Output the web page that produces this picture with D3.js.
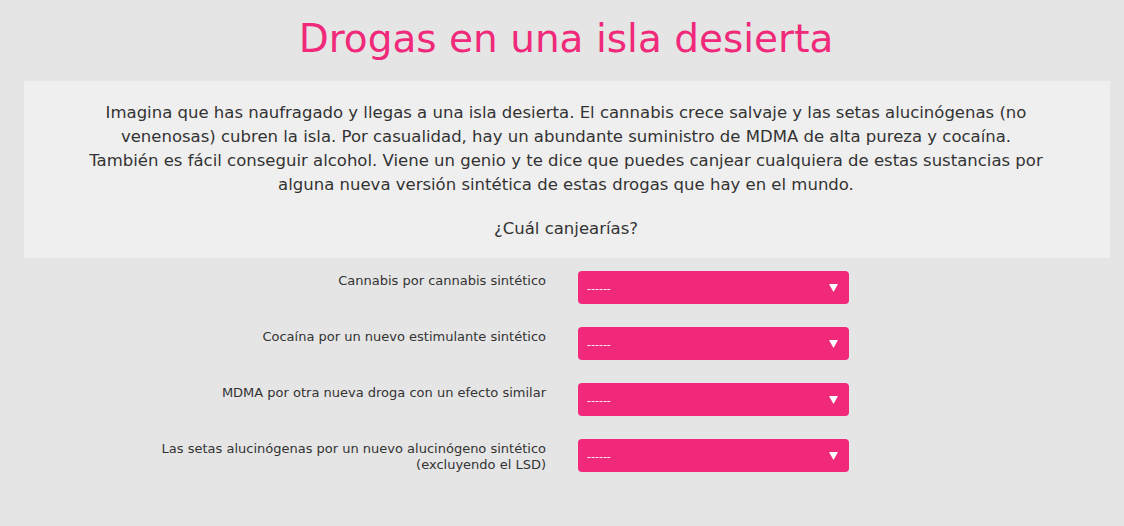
<!DOCTYPE html>
<meta charset="utf-8">
<style>
body{ margin:0; background:#e5e5e5; font-family:"DejaVu Sans", Verdana, sans-serif; }
</style>
<body>
<div id="chart"></div>
<script src="https://d3js.org/d3.v7.min.js"></script>
<script>

var title = "Drogas en una isla desierta";
var introLines = [
  "Imagina que has naufragado y llegas a una isla desierta. El cannabis crece salvaje y las setas alucinógenas (no",
  "venenosas) cubren la isla. Por casualidad, hay un abundante suministro de MDMA de alta pureza y cocaína.",
  "También es fácil conseguir alcohol. Viene un genio y te dice que puedes canjear cualquiera de estas sustancias por",
  "alguna nueva versión sintética de estas drogas que hay en el mundo.",
  "",
  "¿Cuál canjearías?"
];
var questions = [
  ["Cannabis por cannabis sintético"],
  ["Cocaína por un nuevo estimulante sintético"],
  ["MDMA por otra nueva droga con un efecto similar"],
  ["Las setas alucinógenas por un nuevo alucinógeno sintético", "(excluyendo el LSD)"]
];
var placeholder = "------";

var width = 1124, height = 526, pink = "#f0297a";

var svg = d3.select("#chart").append("svg")
    .attr("width", width).attr("height", height);

svg.append("rect").attr("width", width).attr("height", height).attr("fill", "#e5e5e5");

svg.append("text")
    .attr("x", 566).attr("y", 52)
    .attr("text-anchor", "middle")
    .attr("fill", pink)
    .style("font-size", "39px")
    .text(title);

svg.append("rect")
    .attr("x", 24).attr("y", 81).attr("width", 1086).attr("height", 177)
    .attr("fill", "#efefef");

var lineY = d3.scaleLinear().domain([0, 1]).range([118, 142]);
svg.selectAll("text.intro")
  .data(introLines)
  .enter().append("text")
    .attr("class", "intro")
    .attr("x", 566)
    .attr("y", function(d, i) { return i === 5 ? 234 : lineY(i); })
    .attr("text-anchor", "middle")
    .attr("fill", "#333")
    .style("font-size", "16.5px")
    .text(function(d) { return d; });

var rowY = d3.scaleLinear().domain([0, 1]).range([271, 327]);

var rows = svg.selectAll("g.row")
  .data(questions)
  .enter().append("g")
    .attr("class", "row")
    .attr("transform", function(d, i) { return "translate(0," + rowY(i) + ")"; });

rows.each(function(d) {
  var g = d3.select(this);
  d.forEach(function(line, j) {
    g.append("text")
      .attr("x", 546).attr("y", 14 + j * 16)
      .attr("text-anchor", "end")
      .attr("fill", "#333")
      .style("font-size", "13px")
      .text(line);
  });
});

rows.append("rect")
    .attr("x", 578).attr("width", 271).attr("height", 33).attr("rx", 4)
    .attr("fill", pink);

rows.append("text")
    .attr("x", 587).attr("y", 21)
    .attr("fill", "#fff")
    .style("font-size", "11px")
    .text(placeholder);

rows.append("path")
    .attr("d", "M829,13 L838,13 L833.5,21 Z")
    .attr("fill", "#fff");

</script>
</body>
